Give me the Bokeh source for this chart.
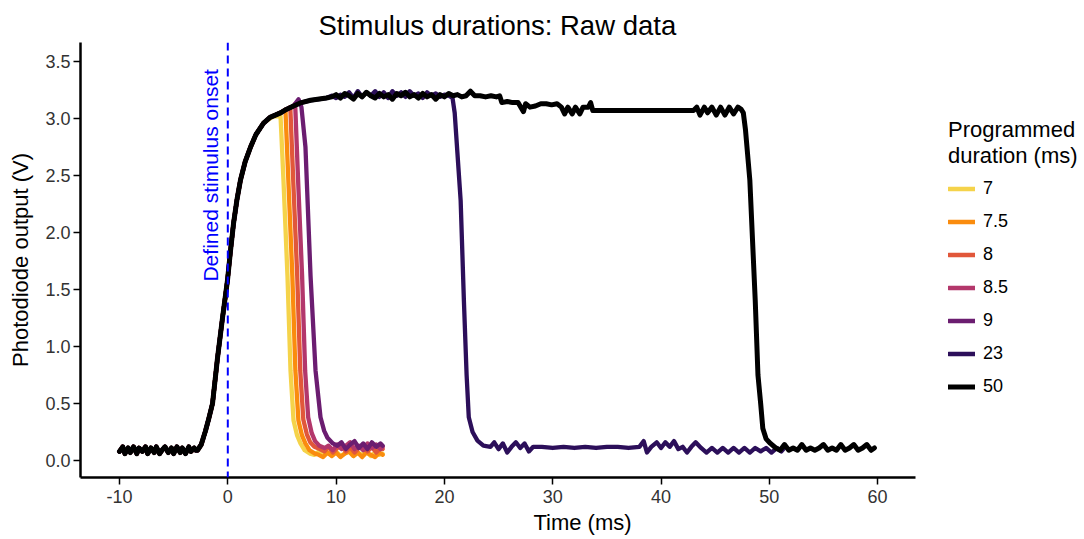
import math
from bokeh.plotting import figure
from bokeh.models import (Range1d, Span, Label, Legend, LegendItem,
                          FixedTicker, PrintfTickFormatter)
from bokeh.embed import file_html
from bokeh.resources import INLINE

FONT = "Liberation Sans"

# ---------------- data ----------------
durations = ["7", "7.5", "8", "8.5", "9", "23", "50"]
colors = ["#F5D34A", "#FA8C0E", "#E1573A", "#B3376B", "#6B1D70", "#2C0F5A", "#000000"]

# shared pre-onset baseline (ms, V)
pre_t = [-10.0, -9.7, -9.5, -9.2, -9.0, -8.7, -8.4, -8.2, -7.9, -7.6, -7.4, -7.1, -6.8,
         -6.6, -6.3, -6.0, -5.8, -5.5, -5.2, -5.0, -4.7, -4.4, -4.2, -3.9, -3.6, -3.4,
         -3.1, -2.95]
pre_v = [0.08, 0.12, 0.06, 0.11, 0.07, 0.12, 0.06, 0.11, 0.08, 0.12, 0.06, 0.11, 0.07,
         0.12, 0.06, 0.10, 0.12, 0.07, 0.11, 0.06, 0.12, 0.07, 0.11, 0.06, 0.12, 0.08,
         0.11, 0.09]

# shared rise
rise_t = [-2.8, -2.45, -2.06, -1.75, -1.41, -0.95, -0.49, -0.03, 0.25, 0.53, 0.85, 1.17,
          1.6, 2.1, 2.6, 3.3, 3.9, 4.87, 5.4, 6.07, 6.8, 7.64, 9.1]
rise_v = [0.09, 0.14, 0.26, 0.37, 0.50, 0.90, 1.25, 1.58, 1.84, 2.08, 2.29, 2.46,
          2.62, 2.75, 2.86, 2.96, 3.01, 3.05, 3.08, 3.11, 3.14, 3.16, 3.18]

# 7 ms
fall7_t = [4.2, 4.87, 5.14, 5.51, 5.79, 6.07, 6.4, 6.71, 7.1, 7.6]
fall7_v = [3.02, 3.02, 2.46, 1.62, 0.79, 0.35, 0.22, 0.15, 0.09, 0.06]
tail7_t = [8.0, 8.4, 8.8, 9.2, 9.6, 10.0, 10.4, 10.8, 11.2, 11.6, 12.0, 12.4, 12.8, 13.2,
           13.6, 14.0, 14.3]
tail7_v = [0.05, 0.08, 0.04, 0.07, 0.05, 0.08, 0.04, 0.06, 0.08, 0.04, 0.07, 0.05, 0.08,
           0.04, 0.07, 0.05, 0.06]

# 7.5 ms
fall75_t = [5.32, 5.59, 5.96, 6.24, 6.52, 6.85, 7.16, 7.55, 8.05]
fall75_v = [3.08, 2.46, 1.62, 0.79, 0.35, 0.22, 0.15, 0.09, 0.06]
tail75_t = [8.4, 8.8, 9.2, 9.6, 10.0, 10.4, 10.8, 11.2, 11.6, 12.0, 12.4, 12.8, 13.2, 13.6,
            14.0, 14.3]
tail75_v = [0.05, 0.03, 0.07, 0.04, 0.07, 0.03, 0.06, 0.08, 0.04, 0.07, 0.03, 0.07, 0.05,
            0.03, 0.07, 0.05]

# 8 ms
fall8_t = [5.77, 6.04, 6.41, 6.69, 6.97, 7.3, 7.61, 8.0, 8.5]
fall8_v = [3.10, 2.46, 1.62, 0.79, 0.36, 0.23, 0.16, 0.12, 0.10]
tail8_t = [8.9, 9.3, 9.7, 10.1, 10.5, 10.9, 11.3, 11.7, 12.1, 12.5, 12.9, 13.3, 13.7,
           14.1, 14.3]
tail8_v = [0.08, 0.12, 0.07, 0.11, 0.13, 0.08, 0.12, 0.07, 0.11, 0.13, 0.08, 0.12, 0.07,
           0.11, 0.10]

# 8.5 ms
fall85_t = [6.22, 6.49, 6.86, 7.14, 7.42, 7.75, 8.06, 8.45, 8.95]
fall85_v = [3.13, 2.46, 1.62, 0.79, 0.38, 0.24, 0.17, 0.13, 0.11]
tail85_t = [9.3, 9.7, 10.1, 10.5, 10.9, 11.3, 11.7, 12.1, 12.5, 12.9, 13.3, 13.7, 14.1, 14.3]
tail85_v = [0.13, 0.09, 0.14, 0.10, 0.13, 0.16, 0.10, 0.13, 0.09, 0.15, 0.11, 0.14, 0.10, 0.12]

# 9 ms
fall9_t = [6.53, 6.8, 7.17, 7.64, 8.1, 8.56, 8.9, 9.2, 9.7, 10.1]
fall9_v = [3.17, 3.10, 2.75, 1.62, 0.79, 0.38, 0.26, 0.20, 0.15, 0.13]
tail9_t = [10.5, 10.9, 11.3, 11.7, 12.1, 12.5, 12.9, 13.3, 13.7, 14.1, 14.3]
tail9_v = [0.16, 0.10, 0.14, 0.17, 0.11, 0.15, 0.10, 0.16, 0.12, 0.15, 0.13]

# 23 ms
plat23_t = [9.6, 10.0, 10.4, 10.8, 11.2, 11.6, 12.0, 12.4, 12.8, 13.2, 13.6, 14.0, 14.4,
            14.8, 15.2, 15.6, 16.0, 16.4, 16.8, 17.2, 17.6, 18.0, 18.4, 18.8, 19.2, 19.6,
            20.0, 20.4]
plat23_v = [3.20, 3.18, 3.21, 3.19, 3.23, 3.18, 3.24, 3.19, 3.23, 3.20, 3.24, 3.19, 3.23,
            3.18, 3.24, 3.20, 3.23, 3.19, 3.24, 3.20, 3.22, 3.18, 3.23, 3.20, 3.22, 3.19,
            3.21, 3.20]
fall23_t = [20.75, 20.95, 21.2, 21.5, 21.8, 22.05, 22.25, 22.6, 23.05, 23.6, 24.25]
fall23_v = [3.18, 3.05, 2.70, 2.28, 1.40, 0.75, 0.38, 0.25, 0.175, 0.13, 0.12]
tail23_t = [24.6, 25.0, 25.4, 25.8, 26.2, 26.6, 27.0, 27.4, 27.8, 28.2, 29.0, 30.0, 31.0,
            32.0, 33.0, 34.0, 35.0, 36.0, 37.0, 38.0, 38.4, 38.7, 39.1, 39.6, 40.0, 40.4,
            40.8, 41.2, 41.6, 42.0, 42.4, 42.8, 43.2, 43.7, 44.2, 44.7, 45.2, 45.7, 46.2,
            46.7, 47.2, 47.7, 48.2, 48.7, 49.2, 49.7, 50.2, 50.7, 51.1, 51.3]
tail23_v = [0.16, 0.10, 0.15, 0.07, 0.12, 0.16, 0.11, 0.15, 0.08, 0.12, 0.12, 0.11, 0.12,
            0.11, 0.12, 0.11, 0.12, 0.12, 0.11, 0.12, 0.17, 0.07, 0.12, 0.16, 0.11, 0.16,
            0.12, 0.17, 0.10, 0.12, 0.07, 0.12, 0.16, 0.11, 0.07, 0.11, 0.07, 0.11, 0.07,
            0.11, 0.07, 0.11, 0.07, 0.11, 0.08, 0.11, 0.07, 0.11, 0.08, 0.10]

# 50 ms
plat50_t = [9.6, 10.0, 10.4, 10.8, 11.2, 11.6, 12.0, 12.4, 12.8, 13.2, 13.6, 14.0, 14.4,
            14.8, 15.2, 15.6, 16.0, 16.4, 16.8, 17.2, 17.6, 18.0, 18.4, 18.8, 19.2, 19.6,
            20.0, 20.4, 20.8, 21.2, 21.6, 22.0, 22.4, 22.8, 23.3, 23.8, 24.3, 24.8, 25.1,
            25.3, 25.8, 26.3, 26.8, 27.3, 27.5, 27.9, 28.4, 28.9, 29.4, 29.9, 30.4, 30.8,
            31.1, 31.4, 31.8, 32.1, 32.5, 32.8, 33.3, 33.5, 33.7, 34.5, 35.5, 36.5, 37.5,
            38.5, 39.5, 40.5, 41.5, 42.5, 43.0, 43.3, 43.6, 44.0, 44.3, 44.7, 45.1, 45.5,
            45.9, 46.3, 46.7, 47.1, 47.4]
plat50_v = [3.19, 3.21, 3.18, 3.22, 3.20, 3.17, 3.22, 3.19, 3.23, 3.20, 3.18, 3.22, 3.19,
            3.21, 3.17, 3.22, 3.20, 3.23, 3.19, 3.21, 3.18, 3.22, 3.19, 3.21, 3.17, 3.21,
            3.19, 3.22, 3.20, 3.21, 3.19, 3.20, 3.24, 3.20, 3.20, 3.19, 3.20, 3.19, 3.20,
            3.14, 3.15, 3.14, 3.14, 3.06, 3.13, 3.10, 3.11, 3.13, 3.13, 3.12, 3.13, 3.10,
            3.04, 3.10, 3.04, 3.10, 3.04, 3.10, 3.10, 3.14, 3.07, 3.07, 3.07, 3.07, 3.07,
            3.07, 3.07, 3.07, 3.07, 3.07, 3.07, 3.10, 3.03, 3.10, 3.05, 3.10, 3.03, 3.10,
            3.03, 3.10, 3.04, 3.10, 3.08]
fall50_t = [47.6, 47.8, 48.2, 48.7, 48.95, 49.2, 49.4, 49.7, 50.1, 50.6]
fall50_v = [3.05, 2.90, 2.46, 1.40, 0.75, 0.50, 0.28, 0.19, 0.15, 0.11]
tail50_t = [51.0, 51.4, 51.8, 52.2, 52.6, 53.0, 53.4, 53.8, 54.2, 54.6, 55.0, 55.4, 55.8,
            56.2, 56.6, 57.0, 57.4, 57.8, 58.2, 58.6, 59.0, 59.4, 59.7]
tail50_v = [0.09, 0.14, 0.09, 0.11, 0.09, 0.14, 0.09, 0.11, 0.09, 0.11, 0.14, 0.09, 0.11,
            0.09, 0.14, 0.09, 0.11, 0.14, 0.09, 0.11, 0.14, 0.09, 0.11]

x_ticks = [-10, 0, 10, 20, 30, 40, 50, 60]
y_ticks = [0.0, 0.5, 1.0, 1.5, 2.0, 2.5, 3.0, 3.5]
legend_title = "Programmed\nduration (ms)"

# assemble series (rise is cut where each trace separates from the common curve)
n33 = rise_t.index(3.3) + 1
n487 = rise_t.index(4.87) + 1
n607 = rise_t.index(6.07) + 1
series = [
    (pre_t + rise_t[:n33] + fall7_t + tail7_t, pre_v + rise_v[:n33] + fall7_v + tail7_v),
    (pre_t + rise_t[:n487] + fall75_t + tail75_t, pre_v + rise_v[:n487] + fall75_v + tail75_v),
    (pre_t + rise_t[:n487] + fall8_t + tail8_t, pre_v + rise_v[:n487] + fall8_v + tail8_v),
    (pre_t + rise_t[:n607] + fall85_t + tail85_t, pre_v + rise_v[:n607] + fall85_v + tail85_v),
    (pre_t + rise_t[:n607] + fall9_t + tail9_t, pre_v + rise_v[:n607] + fall9_v + tail9_v),
    (pre_t + rise_t + plat23_t + fall23_t + tail23_t,
     pre_v + rise_v + plat23_v + fall23_v + tail23_v),
    (pre_t + rise_t + plat50_t + fall50_t + tail50_t,
     pre_v + rise_v + plat50_v + fall50_v + tail50_v),
]

# ---------------- figure ----------------
# The plotting frame runs to the right edge so the legend can sit beside the axes;
# the x axis itself is bounded to the data panel (-13.6 .. 63.5 ms).
X_AXIS_BOUNDS = (-13.6, 63.5)
p = figure(width=1084, height=539, output_backend="svg", toolbar_location=None,
           x_range=Range1d(-13.6, 79.1), y_range=Range1d(-0.149, 3.667),
           min_border_left=80, min_border_right=0, min_border_top=42,
           min_border_bottom=62, title="Stimulus durations: Raw data")
p.xgrid.visible = False
p.ygrid.visible = False
p.outline_line_color = None
p.background_fill_color = "white"
p.border_fill_color = "white"

p.title.text_font = FONT
p.title.text_font_size = "27.5px"
p.title.text_font_style = "normal"
p.title.text_color = "black"
p.title.align = "left"
p.title.offset = 238
p.title.vertical_align = "top"
p.title.standoff = 0

p.xaxis.bounds = X_AXIS_BOUNDS
p.xaxis.ticker = FixedTicker(ticks=x_ticks)
p.yaxis.ticker = FixedTicker(ticks=y_ticks)
p.xaxis.formatter = PrintfTickFormatter(format="%d")
p.yaxis.formatter = PrintfTickFormatter(format="%.1f")
p.xaxis.axis_label = "Time (ms)"
p.yaxis.axis_label = "Photodiode output (V)"
for ax in (p.xaxis, p.yaxis):
    ax.axis_line_width = 2.5
    ax.axis_line_color = "black"
    ax.major_tick_line_color = "black"
    ax.major_tick_line_width = 1.5
    ax.major_tick_out = 7
    ax.major_tick_in = 0
    ax.minor_tick_line_color = None
    ax.major_label_text_font = FONT
    ax.major_label_text_font_size = "18px"
    ax.major_label_text_color = "#333333"
    ax.axis_label_text_font = FONT
    ax.axis_label_text_font_size = "22px"
    ax.axis_label_text_font_style = "normal"
    ax.axis_label_text_color = "black"
p.xaxis.major_label_standoff = 5
p.xaxis.axis_label_standoff = 4
p.yaxis.major_label_standoff = 3
p.yaxis.axis_label_standoff = 9

renderers = []
for (t, v), c, d in zip(series, colors, durations):
    lw = 5 if d == "50" else 4.3
    r = p.line(t, v, line_color=c, line_width=lw, line_join="round", line_cap="round")
    renderers.append(r)

p.add_layout(Span(location=0, dimension="height", line_color="#0000FF",
                  line_dash="8 5", line_width=2))
p.add_layout(Label(x=-1.64, y=1.57, text="Defined stimulus onset", angle=math.pi / 2,
                   text_align="left", text_baseline="middle", text_color="#0000FF",
                   text_font=FONT, text_font_size="21px"))

legend = Legend(items=[LegendItem(label=d, renderers=[r]) for d, r in zip(durations, renderers)],
                location=(868, 80), glyph_width=27, glyph_height=21, label_height=21,
                spacing=12, label_standoff=8, padding=0, margin=0,
                border_line_color=None, background_fill_alpha=0,
                label_text_font=FONT, label_text_font_size="18px",
                label_text_color="black",
                title=legend_title, title_text_font=FONT, title_text_font_size="22px",
                title_text_font_style="normal", title_text_color="black",
                title_standoff=9)
p.add_layout(legend)

open("out.html", "w").write(file_html(p, INLINE))
